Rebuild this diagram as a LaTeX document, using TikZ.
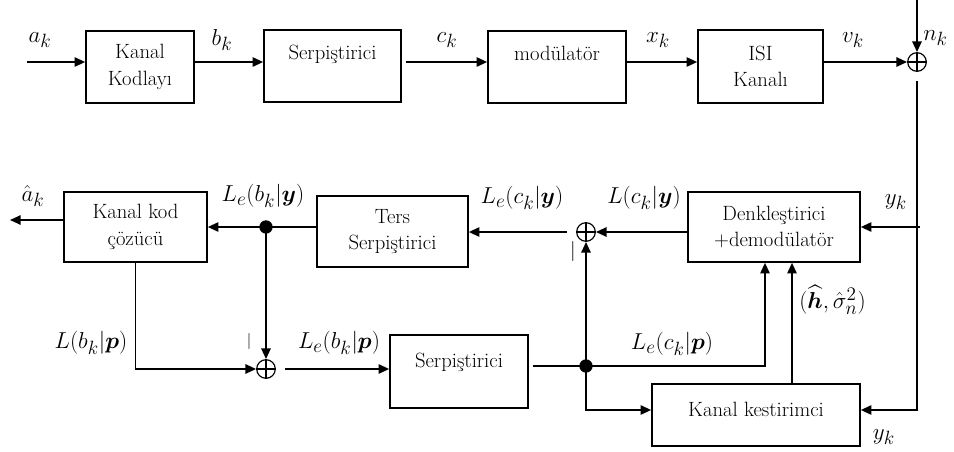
\documentclass[tikz,border=0pt]{standalone}
\usepackage{amsmath}
\usepackage{amssymb}
\usetikzlibrary{arrows.meta,calc}
\tikzstyle{arrow} = [line width=1.4pt,-{Triangle[length=8pt,width=7pt]}]
\tikzstyle{cizgi} = [line width=1.4pt]
\tikzstyle{blok} = [draw,line width=1.2pt,rectangle,align=center,inner sep=2pt,font=\fontsize{15.5}{20}\selectfont]
\tikzstyle{toplam} = [draw,circle,line width=0.9pt,minimum size=14pt,inner sep=0pt,path picture={\draw[line width=0.9pt] (path picture bounding box.north) -- (path picture bounding box.south) (path picture bounding box.west) -- (path picture bounding box.east);}]
\tikzstyle{nokta} = [circle,fill,inner sep=0pt,minimum size=10pt]
\tikzstyle{etiket} = [inner sep=0.75pt,font=\fontsize{19}{21}\selectfont]

\begin{document}
\begin{tikzpicture}[x=0.75pt,y=0.75pt,yscale=-1,xscale=1]
\useasboundingbox (0,0) rectangle (954,451);

%Shape: blocks of the upper chain
\node [blok,minimum width=81pt,minimum height=54pt] (kodlayici) at (140,67) {Kanal\\Kodlayı};
\node [blok,minimum width=102.75pt,minimum height=54pt] (serp1) at (332.5,66) {Serpiştirici\\~};
\node [blok,minimum width=103.5pt,minimum height=54pt] (mod) at (557,67) {modülatör\\~};
\node [blok,minimum width=93.75pt,minimum height=54.75pt] (isi) at (760.5,66.5) {ISI\\Kanalı};
\node [toplam] (sum1) at (917,62) {};

%Shape: blocks of the receiver
\node [blok,minimum width=107.25pt,minimum height=52.5pt] (cozucu) at (135.5,227) {Kanal kod\\çözücü};
\node [blok,minimum width=113.25pt,minimum height=53.25pt] (ters) at (392.5,231.5) {Ters\\Serpiştirici};
\node [toplam] (sum2) at (586,232) {};
\node [blok,minimum width=129pt,minimum height=52.5pt] (denk) at (774,227) {Denkleştirici\\+demodülatör};
\node [toplam] (sum3) at (266,369) {};
\node [blok,minimum width=103.5pt,minimum height=54.75pt] (serp2) at (459,371.5) {Serpiştirici\\[-3pt]~};
\node [blok,minimum width=156pt,minimum height=46.5pt] (kestirim) at (756,415) {Kanal kestirimci\\[-11pt]~};

%Shape: junction dots
\node [nokta] (dot1) at (266,227) {};
\node [nokta] (dot2) at (586,366) {};

\coordinate (ain) at (27,62);
\coordinate (ntop) at (917,0);
\coordinate (yalt) at (920,410);
\coordinate (acikis) at (10,220);
\coordinate (cgiris) at ($(denk.south)+(-9,0)$);
\coordinate (hgiris) at ($(denk.south)+(18,0)$);

%Straight Lines: upper chain
\draw [arrow] (ain) -- (kodlayici.west |- ain);
\draw [arrow] (kodlayici.east |- ain) -- (serp1.west |- ain);
\draw [arrow,shorten <=3pt] (serp1.east |- ain) -- (mod.west |- ain);
\draw [arrow] (mod.east |- ain) -- (isi.west |- ain);
\draw [arrow] (isi.east |- ain) -- (sum1.west);
\draw [arrow] (ntop) -- (sum1.north);

%Straight Lines: received signal
\draw [arrow,shorten <=7pt] (sum1.south) -- (sum1.south |- yalt) -- (kestirim.east |- yalt);
\draw [arrow] (yalt |- denk.east) -- (denk.east);

%Straight Lines: iterative loop
\draw [arrow] (denk.west |- sum2) -- (sum2.east);
\draw [arrow,shorten <=7pt] (sum2.west) -- (ters.east |- sum2);
\draw [arrow] (ters.west |- dot1) -- (cozucu.east |- dot1);
\draw [arrow] (cozucu.west |- acikis) -- (acikis);
\draw [arrow] (dot1.center) -- (sum3.north);
\draw [arrow] (cozucu.south) -- (cozucu.south |- sum3) -- (sum3.west);
\draw [arrow,shorten <=7pt] (sum3.east) -- (serp2.west |- sum3);
\draw [arrow,shorten <=3pt] (serp2.east |- dot2) -- (dot2.center) -- (cgiris |- dot2) -- (cgiris);
\draw [arrow] (dot2.center) -- (sum2.south);
\draw [arrow] (dot2.center) -- (dot2 |- yalt) -- (kestirim.west |- yalt);
\draw [arrow] (hgiris |- kestirim.north) -- (hgiris);

% Text Node
\node [etiket] (ak) at (40,40) {$a_{k}$};
\node [etiket] (bk) at (222,40) {$b_{k}$};
\node [etiket] (ck) at (447,40) {$c_{k}$};
\node [etiket] (xk) at (658,40) {$x_{k}$};
\node [etiket] (vk) at (853,40) {$v_{k}$};
\node [etiket,anchor=west] (nk) at (922,38) {$n_{k}$};
\node [etiket] (yk1) at (896,202) {$y_{k}$};
\node [etiket] (Lcy) at (644,198) {$L( c_{k} |\boldsymbol{y})$};
\node [etiket] (Lecy) at (522,198) {$L_{e}( c_{k} |\boldsymbol{y})$};
\node [etiket] (Leby) at (263,196) {$L_{e}( b_{k} |\boldsymbol{y})$};
\node [etiket] (ahat) at (33,196) {$\hat{a}_{k}$};
\node [etiket,anchor=west] (hsig) at (798,300) {$(\widehat{\boldsymbol{h}} ,\hat{\sigma }_{n}^{2})$};
\node [etiket] (Lbp) at (91,343) {$L( b_{k} |\boldsymbol{p})$};
\node [etiket] (Lebp) at (339,343) {$L_{e}( b_{k} |\boldsymbol{p})$};
\node [etiket] (Lecp) at (672,344) {$L_{e}( c_{k} |\boldsymbol{p})$};
\node [etiket] (yk2) at (884,437) {$y_{k}$};
\node [inner sep=0pt,font=\fontsize{15}{15}\selectfont] (eksi1) at (573,251) {|};
\node [inner sep=0pt,font=\fontsize{12}{12}\selectfont] (eksi2) at (249,341) {|};

\end{tikzpicture}
\end{document}
